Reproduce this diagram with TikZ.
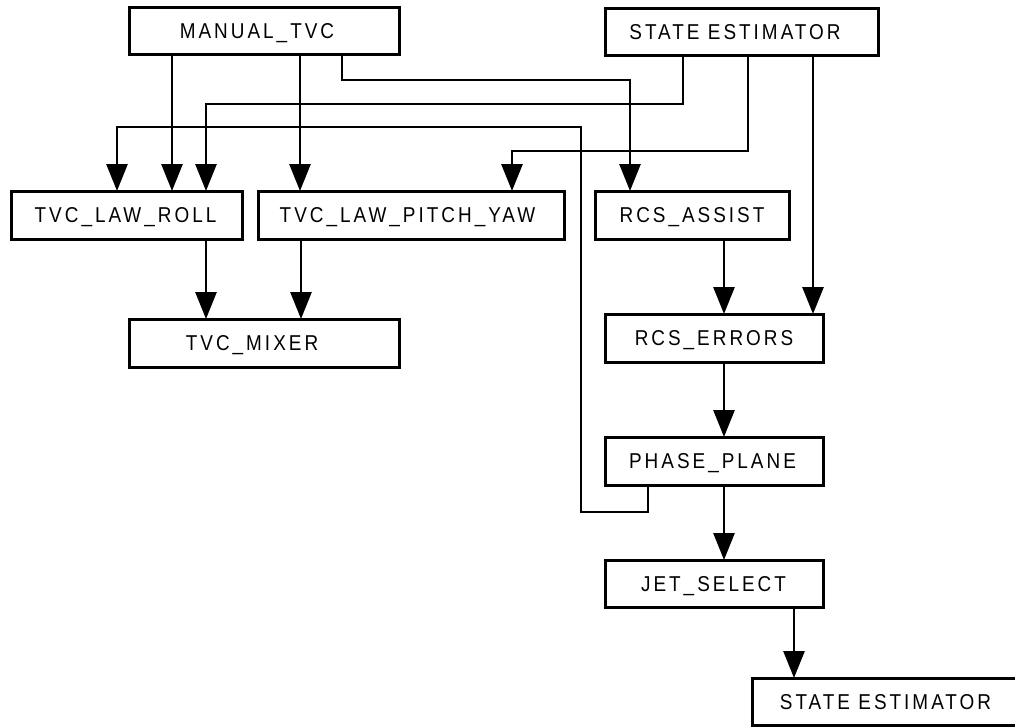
\documentclass[tikz,border=0pt]{standalone}
\usepackage{fontspec}
\setmainfont{Liberation Sans}[LetterSpace=14, FakeStretch=0.88]
\usetikzlibrary{arrows.meta}
\tikzset{
  box/.style={draw, line width=3pt, minimum height=47pt, inner sep=0pt, outer sep=0pt},
  lbl/.style={font=\fontsize{21.5}{24}\selectfont, inner sep=0pt, anchor=base},
  conn/.style={line width=2.8pt, -{Triangle[length=27pt,width=21pt]}}
}
\begin{document}
\begin{tikzpicture}[x=1pt,y=-1pt]
\useasboundingbox (0,0) rectangle (1015,726);
\clip (0,0) rectangle (1015,726);
% boxes
\node[box, minimum width=270pt] (mtvc) at (264,31) {};
\node[lbl] at (257,38) {MANUAL\_TVC};
\node[box, minimum width=273pt] (se1) at (741.5,31.5) {};
\node[lbl] at (735,39.5) {STATE ESTIMATOR};
\node[box, minimum width=231pt, minimum height=48pt] (roll) at (126.5,215) {};
\node[lbl] at (125.5,222.5) {TVC\_LAW\_ROLL};
\node[box, minimum width=306pt, minimum height=48pt] (py) at (411,215) {};
\node[lbl] at (407.5,222.5) {TVC\_LAW\_PITCH\_YAW};
\node[box, minimum width=194pt, minimum height=48pt] (assist) at (692,215) {};
\node[lbl] at (692,222.5) {RCS\_ASSIST};
\node[box, minimum width=270pt, minimum height=48pt] (mixer) at (264,343) {};
\node[lbl] at (252,350.5) {TVC\_MIXER};
\node[box, minimum width=218pt, minimum height=48pt] (err) at (714,338) {};
\node[lbl] at (714,345.5) {RCS\_ERRORS};
\node[box, minimum width=218pt, minimum height=48pt] (phase) at (714,461) {};
\node[lbl] at (712.5,468.5) {PHASE\_PLANE};
\node[box, minimum width=218pt, minimum height=47pt] (jet) at (714,583.5) {};
\node[lbl] at (713.5,591) {JET\_SELECT};
\node[box, minimum width=273pt, minimum height=47pt] (se2) at (888.5,701.5) {};
\node[lbl] at (885.5,709) {STATE ESTIMATOR};
% connectors
\draw[conn] (mtvc.south -| 172,0) -- (roll.north -| 172,0);
\draw[conn] (mtvc.south -| 300,0) -- (py.north -| 300,0);
\draw[conn] (mtvc.south -| 342,0) -- (342,80) -- (630,80) -- (assist.north -| 630,0);
\draw[conn] (se1.south -| 683,0) -- (683,104) -- (206,104) -- (roll.north -| 206,0);
\draw[conn] (se1.south -| 748,0) -- (748,151) -- (512,151) -- (py.north -| 512,0);
\draw[conn] (se1.south -| 813,0) -- (err.north -| 813,0);
\draw[conn] (phase.south -| 648,0) -- (648,512) -- (581,512) -- (581,127) -- (117,127) -- (roll.north -| 117,0);
\draw[conn] (roll.south -| 206,0) -- (mixer.north -| 206,0);
\draw[conn] (py.south -| 301,0) -- (mixer.north -| 301,0);
\draw[conn] (assist.south -| 724,0) -- (err.north -| 724,0);
\draw[conn] (err.south -| 724,0) -- (phase.north -| 724,0);
\draw[conn] (phase.south -| 724,0) -- (jet.north -| 724,0);
\draw[conn] (jet.south -| 794,0) -- (se2.north -| 794,0);
\end{tikzpicture}
\end{document}
